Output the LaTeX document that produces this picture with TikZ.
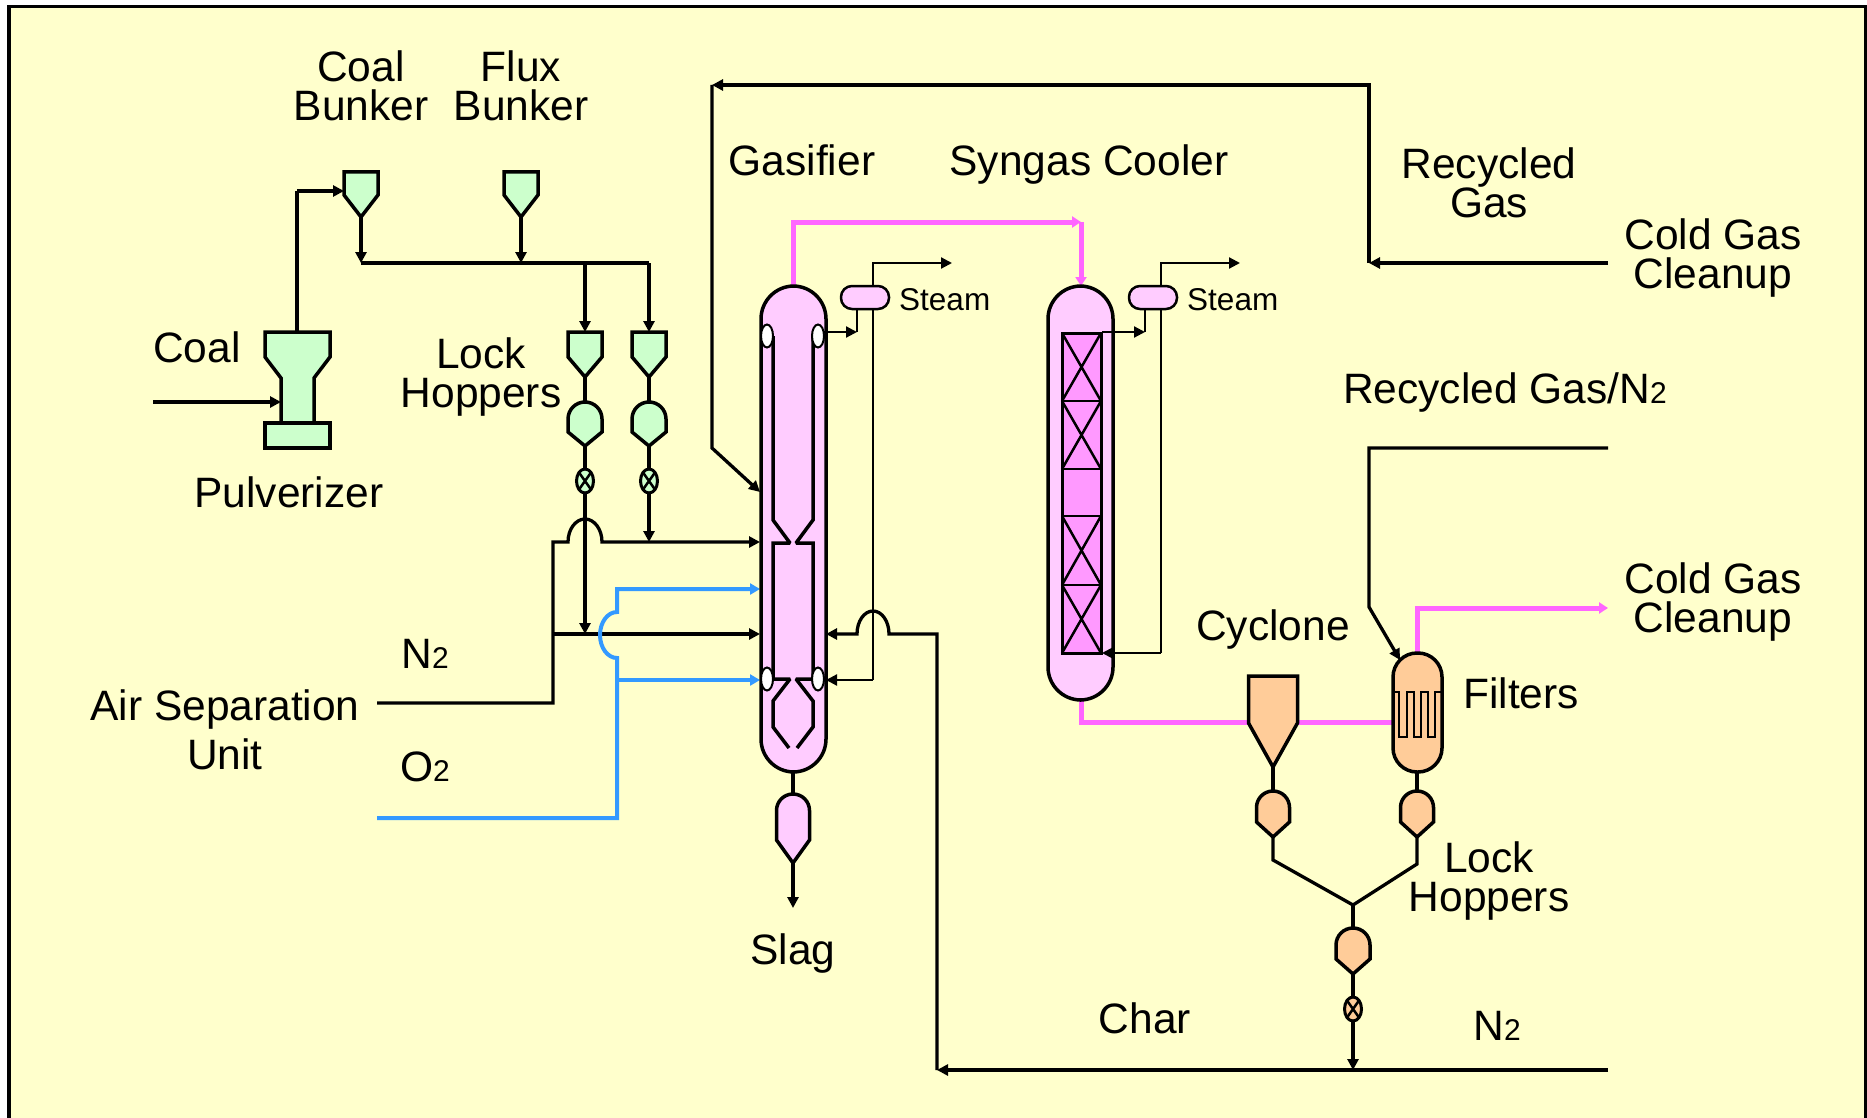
\documentclass[tikz,border=0pt]{standalone}
\usepackage{fontspec}
\setmainfont{Liberation Sans}
\usetikzlibrary{arrows.meta}
\definecolor{bgc}{HTML}{FFFFCC}
\definecolor{grn}{HTML}{CCFFCC}
\definecolor{pnk}{HTML}{FFCCFF}
\definecolor{pnkd}{HTML}{FF99FF}
\definecolor{mag}{HTML}{FF66FF}
\definecolor{blu}{HTML}{3399FF}
\definecolor{org}{HTML}{FFCC99}
\newcommand{\lbl}{\fontsize{42.5}{39}\selectfont}
\newcommand{\sml}{\fontsize{31.5}{34}\selectfont}
\newcommand{\subt}[1]{{\fontsize{30}{30}\selectfont #1}}
\tikzset{
 x=1pt,y=-1pt,
 ptip/.tip={Triangle[length=11pt,width=11pt]},
 pipe/.style={line width=3.3pt,black,line join=miter},
 thinpipe/.style={line width=2.2pt,black,line join=miter},
 flow/.style={pipe,-ptip},
 thinflow/.style={thinpipe,-ptip},
 gas/.style={line width=5pt,mag,line join=miter},
 gasflow/.style={gas,-{Triangle[length=9pt,width=11pt]}},
 oxy/.style={line width=4pt,blu,line join=miter},
 oxyflow/.style={oxy,-{Triangle[length=10pt,width=11pt]}},
 vessel/.style={draw=black,line width=3.5pt,line join=miter},
 wall/.style={draw=black,line width=3.5pt,line join=miter,miter limit=2},
 xline/.style={draw=black,line width=2.5pt},
 txt/.style={inner sep=0pt,align=center,font=\lbl,anchor=center},
 stm/.style={inner sep=0pt,font=\sml,anchor=west},
 oval/.style={draw=black,line width=2pt,fill=white},
 drum/.style={draw=black,line width=2.5pt,fill=pnk,rounded corners=11pt},
}
% flat-top hopper: name, cx, top, hw, shoulder, tip, fill
\newcommand{\fhop}[7]{\path[vessel,fill=#7] (#2-#4,#3) -- (#2+#4,#3) -- (#2+#4,#5) -- (#2,#6) -- (#2-#4,#5) -- cycle;\coordinate (#1t) at (#2,#3);\coordinate (#1b) at (#2,#6);}
% domed hopper: name, cx, top, hw, shoulder, tip, fill
\newcommand{\dhop}[7]{\path[vessel,fill=#7] (#2-#4,#5) -- (#2,#6) -- (#2+#4,#5) -- (#2+#4,#3+#4) arc[start angle=0,end angle=-180,radius=#4] -- cycle;\coordinate (#1t) at (#2,#3);\coordinate (#1b) at (#2,#6);}
% valve: name, cx, cy, fill
\newcommand{\vlv}[4]{\draw[line width=3pt,fill=#4] (#2,#3) ellipse[x radius=8.5,y radius=12];
 \draw[line width=2.5pt] (#2-6,#3-8.5) -- (#2+6,#3+8.5) (#2+6,#3-8.5) -- (#2-6,#3+8.5);
 \coordinate (#1t) at (#2,#3-12);\coordinate (#1b) at (#2,#3+12);}
\begin{document}
\begin{tikzpicture}
\useasboundingbox (0,0) rectangle (1867,1118);
\fill[white] (0,0) rectangle (1867,1118);
\path[fill=bgc,draw=black,line width=3.5pt] (9,6.5) -- (1865.5,6.5) -- (1865.5,1130) -- (9,1130) -- cycle;

% ---------- coordinates of free ends and bends ----------
\coordinate (coalin) at (153,402);
\coordinate (pulvin) at (281,402);
\coordinate (pulvtop) at (297,332);
\coordinate (pulvup) at (297,191);
\coordinate (cbin) at (344,191);
\coordinate (joinL) at (361,263);
\coordinate (joinF) at (521,263);
\coordinate (joinA) at (585,263);
\coordinate (joinB) at (649,263);

% ---------- pulverizer and bunkers ----------
\path[vessel,fill=grn] (265,332) -- (330,332) -- (330,357) -- (314,378) -- (314,423) -- (281,423) -- (281,378) -- (265,357) -- cycle;
\path[vessel,fill=grn] (265,423) rectangle (330,448);
\draw[flow] (coalin) -- (pulvin);
\draw[pipe] (pulvtop) -- (pulvup);
\draw[flow] (pulvup) -- (cbin);
\fhop{cb}{361}{172}{17}{195}{217}{grn}
\fhop{fb}{521}{172}{17}{195}{217}{grn}
\draw[flow] (cbb) -- (joinL);
\draw[flow] (fbb) -- (joinF);
\draw[pipe] (joinL) -- (joinB);

% ---------- coal lock hoppers ----------
\fhop{la}{585}{332}{17}{357}{377}{grn}
\fhop{lb}{649}{332}{17}{357}{377}{grn}
\draw[flow] (joinA) -- (lat);
\draw[flow] (joinB) -- (lbt);
\draw[pipe] (lab) -- +(0,25);
\draw[pipe] (lbb) -- +(0,25);
\dhop{ma}{585}{402}{17}{432}{446}{grn}
\dhop{mb}{649}{402}{17}{432}{446}{grn}
\draw[pipe] (mab) -- +(0,25);
\draw[pipe] (mbb) -- +(0,25);
\vlv{va}{585}{481}{grn}
\vlv{vb}{649}{481}{grn}

% ---------- feeds to gasifier ----------
\coordinate (n2end) at (377,703);
\coordinate (n2up) at (553,703);
\coordinate (n2top) at (553,542);
\coordinate (gfA) at (760,542);
\coordinate (gfB) at (760,589);
\coordinate (gfC) at (760,634);
\coordinate (gfD) at (760,680);
\coordinate (n2mid) at (553,634);
\coordinate (vaend) at (585,634);
\coordinate (vbend) at (649,542);
\draw[flow] (n2end) -- (n2up) -- (n2top) -- (568,542) arc[start angle=180,end angle=360,x radius=17,y radius=23] -- (gfA);
\draw[flow] (n2mid) -- (gfC);
\draw[flow] (vab) -- (vaend);
\draw[flow] (vbb) -- (vbend);
\coordinate (o2end) at (377,818);
\coordinate (o2up) at (617,818);
\draw[oxyflow] (o2end) -- (o2up) -- (617,658) arc[start angle=90,end angle=270,x radius=17,y radius=23] -- (617,589) -- (gfB);
\draw[oxyflow] (617,680) -- (gfD);

% ---------- hot gas to syngas cooler ----------
\coordinate (gtop) at (793,286);
\coordinate (gbend) at (793,222);
\coordinate (cbend) at (1081,222);
\coordinate (ctop) at (1081,286);
\draw[gasflow] (gtop) -- (gbend) -- (cbend);
\draw[gasflow] (cbend) -- (ctop);
\coordinate (cbot) at (1081,700);
\coordinate (cdown) at (1081,722);
\coordinate (fleft) at (1393,722);
\draw[gas] (cbot) -- (cdown) -- (fleft);

% ---------- gasifier ----------
\path[vessel,fill=pnk,rounded corners=33pt] (761,286) rectangle (826,772);
\draw[wall] (773,336) -- (773,520) -- (790,543) -- (773,543) -- (773,679) -- (790,679) -- (773,701) -- (773,727) -- (789,748);
\draw[wall] (813,336) -- (813,520) -- (796,543) -- (813,543) -- (813,679) -- (796,679) -- (813,701) -- (813,727) -- (797,748);
\path[oval] (767,336) ellipse[x radius=6,y radius=11.5];
\path[oval] (818,336) ellipse[x radius=6,y radius=11.5];
\path[oval] (767,679) ellipse[x radius=6,y radius=11.5];
\path[oval] (818,679) ellipse[x radius=6,y radius=11.5];

% ---------- gasifier steam loop ----------
\coordinate (sa1) at (873,680);
\coordinate (sa2) at (873,263);
\coordinate (sa3) at (952,263);
\coordinate (sa4) at (857,309);
\coordinate (sa5) at (857,332);
\coordinate (sa6) at (824,332);
\draw[thinflow] (sa1) -- (826,680);
\draw[thinflow] (sa1) -- (sa2) -- (sa3);
\draw[thinflow] (sa6) -- (sa5);
\draw[thinpipe] (sa5) -- (sa4);
\path[drum] (841,286) rectangle (889,309);

% ---------- char return to gasifier ----------
\coordinate (chartr) at (1608,1070);
\coordinate (charl) at (937,1070);
\coordinate (charu) at (937,634);
\draw[flow] (chartr) -- (charl);
\draw[flow] (charl) -- (charu) -- (889,634) arc[start angle=0,end angle=-180,x radius=16,y radius=23] -- (826,634);

% ---------- syngas cooler ----------
\path[vessel,fill=pnk,rounded corners=33pt] (1048,286) rectangle (1113,700);
\path[draw=black,line width=3pt,fill=pnkd] (1062,333) rectangle (1101,653);
\draw[xline] (1062,401) -- (1101,401) (1062,469) -- (1101,469) (1062,516) -- (1101,516) (1062,585) -- (1101,585);
\draw[xline] (1062,333) -- (1101,401) (1101,333) -- (1062,401);
\draw[xline] (1062,401) -- (1101,469) (1101,401) -- (1062,469);
\draw[xline] (1062,516) -- (1101,585) (1101,516) -- (1062,585);
\draw[xline] (1062,585) -- (1101,653) (1101,585) -- (1062,653);

% ---------- cooler steam loop ----------
\coordinate (sb1) at (1161,653);
\coordinate (sb2) at (1161,263);
\coordinate (sb3) at (1240,263);
\coordinate (sb4) at (1145,309);
\coordinate (sb5) at (1145,332);
\coordinate (sb6) at (1102,332);
\draw[thinflow] (sb1) -- (sb6 |- sb1);
\draw[thinflow] (sb1) -- (sb2) -- (sb3);
\draw[thinflow] (sb6) -- (sb5);
\draw[thinpipe] (sb5) -- (sb4);
\path[drum] (1129,286) rectangle (1177,309);

% ---------- recycle lines ----------
\coordinate (cg) at (1608,263);
\coordinate (rj) at (1369,263);
\coordinate (rt) at (1369,85);
\coordinate (rl) at (712,85);
\coordinate (rd) at (712,448);
\coordinate (rg) at (760,492);
\draw[flow] (cg) -- (rj);
\draw[flow] (rj) -- (rt) -- (rl);
\draw[flow] (rl) -- (rd) -- (rg);

% ---------- filter ----------
\coordinate (rg2) at (1608,448);
\coordinate (fb1) at (1369,448);
\coordinate (fb2) at (1369,607);
\coordinate (fb3) at (1400,660);
\coordinate (ftop) at (1417,653);
\coordinate (fbend) at (1417,608);
\coordinate (fout) at (1608,608);
\draw[gasflow] (ftop) -- (fbend) -- (fout);
\path[vessel,fill=org,rounded corners=24pt] (1393,653) rectangle (1442,772);
\draw[flow] (rg2) -- (fb1) -- (fb2) -- (fb3);
\draw[line width=2pt] (1393,692) -- (1399.3,692) -- (1399.3,737) -- (1406.7,737) -- (1406.7,692) -- (1414,692) -- (1414,737) -- (1421,737) -- (1421,692) -- (1427.7,692) -- (1427.7,737) -- (1435,737) -- (1435,692) -- (1442,692);

% ---------- cyclone and char hoppers ----------
\fhop{cy}{1273}{676}{24.5}{723}{767}{org}
\dhop{ca}{1273}{791}{16.5}{822}{837}{org}
\dhop{cc}{1417}{791}{16.5}{822}{837}{org}
\dhop{cd}{1353}{928}{17}{959}{974}{org}
\coordinate (filb) at (1417,772);
\coordinate (cabd) at (1273,860);
\coordinate (ccbd) at (1417,864);
\coordinate (mrg) at (1353,905);
\draw[pipe] (cyb) -- (cat);
\draw[pipe] (filb) -- (cct);
\draw[pipe] (cab) -- (cabd) -- (mrg);
\draw[pipe] (ccb) -- (ccbd) -- (mrg);
\draw[pipe] (mrg) -- (cdt);
\draw[pipe] (cdb) -- +(0,23);
\vlv{ve}{1353}{1009}{org}
\coordinate (cend) at (1353,1070);
\draw[flow] (veb) -- (cend);

% ---------- slag ----------
\dhop{sl}{793}{794}{16.5}{840}{863}{pnk}
\coordinate (gbot) at (793,772);
\coordinate (slag) at (793,908);
\draw[pipe] (gbot) -- (slt);
\draw[flow] (slb) -- (slag);

% ---------- labels ----------
\node[txt] (tcb) at (361,86) {Coal\\Bunker};
\node[txt] (tfb) at (521,86) {Flux\\Bunker};
\node[txt] (tcoal) at (197,347) {Coal};
\node[txt] (tlh) at (481,377) {Lock\\Hoppers};
\node[txt] (tpul) at (289,492) {Pulverizer};
\node[txt] (tgas) at (802,160) {Gasifier};
\node[txt] (tsc) at (1089,165) {Syngas Cooler};
\node[txt] (trg) at (1489,183) {Recycled\\Gas};
\node[txt] (tcg1) at (1713,258) {Cold Gas\\Cleanup};
\node[stm] (ts1) at (899,300) {Steam};
\node[stm] (ts2) at (1187,300) {Steam};
\node[txt] (trn) at (1505,393) {Recycled Gas/N\subt{2}};
\node[txt] (tcg2) at (1713,602) {Cold Gas\\Cleanup};
\node[txt] (tcy) at (1273,630) {Cyclone};
\node[txt] (tfi) at (1521,693) {Filters};
\node[txt] (tlh2) at (1489,881) {Lock\\Hoppers};
\node[txt] (tch) at (1145,1018) {Char};
\node[txt] (tn2r) at (1497,1026) {N\subt{2}};
\node[txt] (tn2l) at (425,654) {N\subt{2}};
\node[txt] (to2) at (425,767) {O\subt{2}};
\node[txt] (tasu) at (225,730) {Air Separation\\[8pt]Unit};
\node[txt] (tsl) at (793,954) {Slag};
\end{tikzpicture}
\end{document}
